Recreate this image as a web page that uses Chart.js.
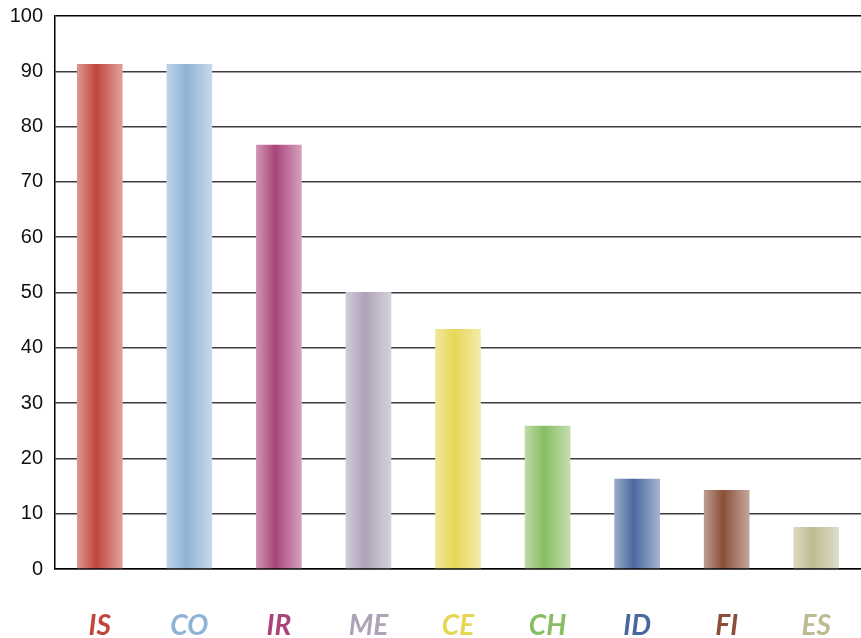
<!DOCTYPE html>
<html>
<head>
<meta charset="utf-8">
<script src="https://cdn.jsdelivr.net/npm/chart.js@4/dist/chart.umd.min.js"></script>
<style>
  html, body { margin: 0; padding: 0; background: #fff; }
  #wrap { width: 861px; height: 638px; }
</style>
</head>
<body>
<div id="wrap"><canvas id="chartCanvas" width="861" height="638"></canvas></div>
<script>
// data
const categories = ['IS', 'CO', 'IR', 'ME', 'CE', 'CH', 'ID', 'FI', 'ES'];
const values = [91.3, 91.3, 76.7, 50.1, 43.4, 25.9, 16.3, 14.3, 7.6];
const yTicks = [0, 10, 20, 30, 40, 50, 60, 70, 80, 90, 100];

// bar colours (dark middle of each bar)
const palette = ['#c0453a', '#8fb3d7', '#a9447a', '#ada2b8', '#e6d654', '#88bd62', '#4a68a0', '#8a4f38', '#bdbb92'];
const BAR_FRAC = 0.51;

function lighten(hex, amt) {
    let n = parseInt(hex.slice(1), 16);
    let r = (n >> 16) & 255, g = (n >> 8) & 255, b = n & 255;
    r = Math.round(r + (255 - r) * amt);
    g = Math.round(g + (255 - g) * amt);
    b = Math.round(b + (255 - b) * amt);
    return `rgb(${r},${g},${b})`;
}

function barFill(context) {
    let chart = context.chart;
    let base = palette[context.dataIndex];
    if (!chart.chartArea || !chart.scales.x) return base;
    let cx = chart.scales.x.getPixelForValue(context.dataIndex);
    let half = (chart.chartArea.right - chart.chartArea.left) / categories.length * BAR_FRAC / 2;
    let g = chart.ctx.createLinearGradient(cx - half, 0, cx + half, 0);
    g.addColorStop(0, lighten(base, 0.45));
    g.addColorStop(0.42, base);
    g.addColorStop(1, lighten(base, 0.5));
    return g;
}

let ctx = document.getElementById('chartCanvas').getContext('2d');
let chart = new Chart(ctx, {
    type: 'bar',
    data: {
        labels: categories,
        datasets: [{
            data: values,
            backgroundColor: barFill,
            borderWidth: 0,
            categoryPercentage: 1,
            barPercentage: BAR_FRAC
        }]
    },
    options: {
        responsive: false,
        animation: false,
        layout: { padding: { top: 16, right: 0, left: 0, bottom: 0 } },
        plugins: { legend: { display: false }, tooltip: { enabled: false } },
        scales: {
            x: {
                grid: { display: false, drawTicks: false },
                border: { display: true, color: '#000', width: 1.5 },
                ticks: {
                    padding: 40,
                    color: c => palette[c.index],
                    font: { family: 'Lato', size: 28, weight: 'bold', style: 'italic' }
                },
                afterFit: s => { s.height = 69; s.paddingLeft = 0; s.paddingRight = 0; }
            },
            y: {
                min: 0,
                max: 100,
                afterBuildTicks: s => { s.ticks = yTicks.map(v => ({ value: v })); },
                grid: {
                    color: c => c.tick && c.tick.value === 100 ? '#000' : '#3c3c3c',
                    lineWidth: 1.5,
                    drawTicks: false
                },
                border: { display: true, color: '#000', width: 1.5 },
                ticks: {
                    padding: 12,
                    color: '#111',
                    font: { family: 'Liberation Sans', size: 20 }
                },
                afterFit: s => { s.width = 55; s.paddingTop = 0; s.paddingBottom = 0; }
            }
        }
    }
});
</script>
</body>
</html>
